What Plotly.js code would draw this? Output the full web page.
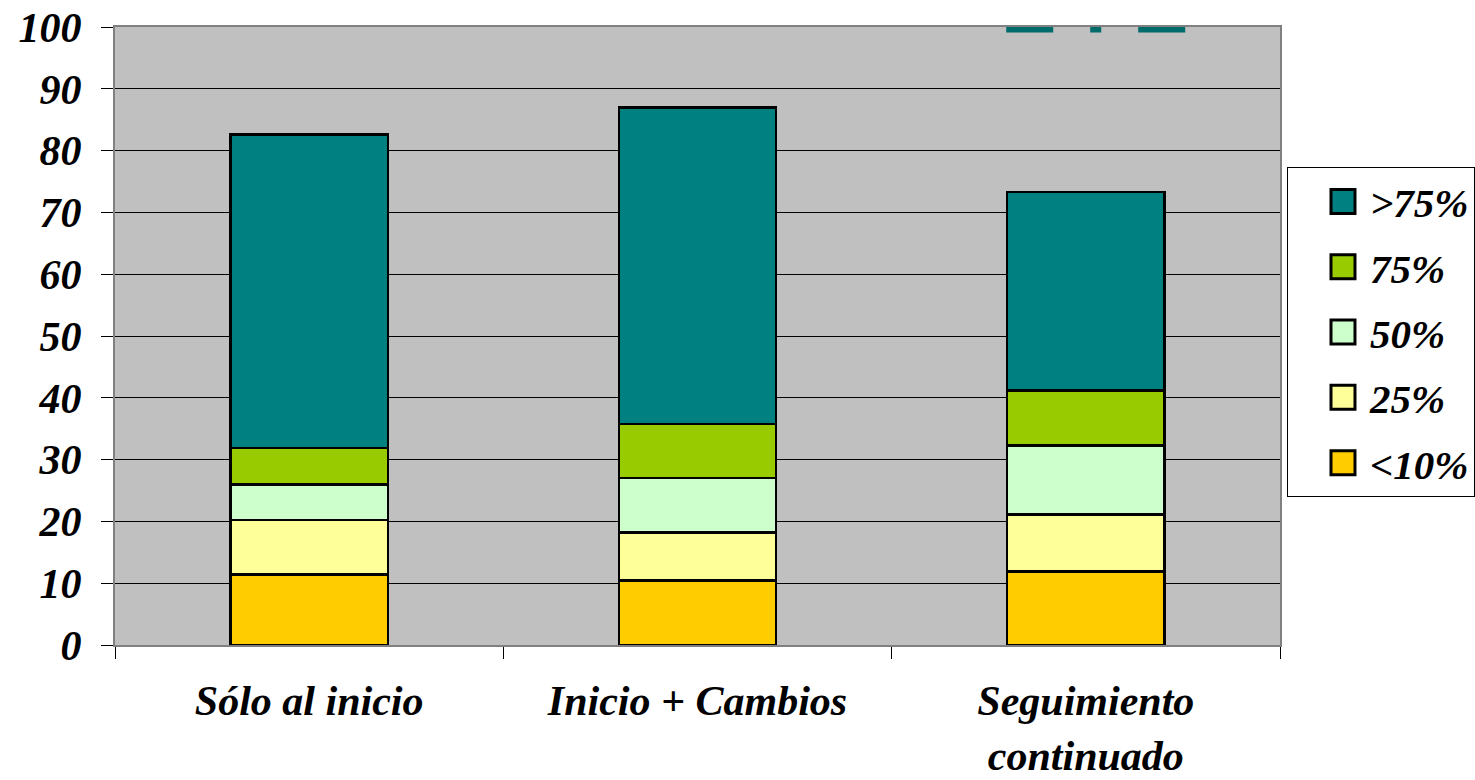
<!DOCTYPE html>
<html>
<head>
<meta charset="utf-8">
<script src="https://cdn.plot.ly/plotly-3.0.1.min.js"></script>
<style>
html,body{margin:0;padding:0;background:#fff;}
#chart{width:1475px;height:780px;}
</style>
</head>
<body>
<div id="chart"></div>
<script>
const categories = ["Sólo al inicio", "Inicio + Cambios", "Seguimiento<br>continuado"];
const seriesNames = ["<10%", "25%", "50%", "75%", ">75%"];
const seriesColors = ["#FFCC00", "#FFFF99", "#CCFFCC", "#99CC00", "#008080"];
const valsLt10 = [11.4, 10.4, 11.9];
const vals25 = [8.8, 7.8, 9.25];
const vals50 = [5.8, 8.8, 11.15];
const vals75 = [5.9, 8.8, 8.85];
const valsGt75 = [50.7, 51.2, 32.15];
const yTicks = [0, 10, 20, 30, 40, 50, 60, 70, 80, 90, 100];

const allVals = [valsLt10, vals25, vals50, vals75, valsGt75];
const FONT = "Liberation Serif, Times New Roman, serif";

const traces = allVals.map((v, i) => ({
  type: "bar",
  name: "<b><i>" + seriesNames[i].replace("<", "&lt;").replace(">", "&gt;") + "</i></b>",
  x: categories,
  y: v,
  legendgroup: "g" + i,
  legendrank: 100 - i,
  marker: {color: seriesColors[i], line: {color: "#000", width: 2.5}},
  hoverinfo: "skip"
}));

const layout = {
  width: 1475, height: 780,
  margin: {l: 115, r: 195, t: 27, b: 135, autoexpand: false},
  barmode: "stack",
  bargap: 0.595,
  paper_bgcolor: "#FFFFFF",
  plot_bgcolor: "#C0C0C0",
  font: {family: FONT, color: "#000"},
  showlegend: true,
  legend: {
    x: 1.006, xanchor: "left", y: 0.773, yanchor: "top",
    bgcolor: "#FFFFFF", bordercolor: "#000", borderwidth: 1,
    font: {family: FONT, size: 41, color: "#000"},
    traceorder: "grouped",
    tracegroupgap: 9,
    itemwidth: 72
  },
  xaxis: {
    type: "category",
    tickmode: "array",
    tickvals: categories,
    ticktext: categories.map(c => "<b><i>" + c + "</i></b>"),
    tickson: "boundaries",
    ticks: "outside", ticklen: 12, tickcolor: "#000", tickwidth: 1,
    ticklabelstandoff: 18,
    tickfont: {family: FONT, size: 42, color: "#000"},
    showline: true, linecolor: "#808080", linewidth: 2, mirror: true,
    showgrid: false, zeroline: false, fixedrange: true
  },
  yaxis: {
    range: [0, 100],
    tickmode: "array",
    tickvals: yTicks,
    ticktext: yTicks.map(t => "<b><i>" + t + "</i></b>"),
    ticks: "outside", ticklen: 12, tickcolor: "#000", tickwidth: 1,
    ticklabelstandoff: 11,
    tickfont: {family: FONT, size: 42, color: "#000"},
    showgrid: true, gridcolor: "#000", gridwidth: 1,
    showline: true, linecolor: "#808080", linewidth: 2, mirror: true,
    zeroline: false, fixedrange: true
  },
  shapes: [{
    type: "line", xref: "paper", yref: "y",
    x0: 0.765, x1: 0.919, y0: 100, y1: 100,
    line: {color: "#006B6B", width: 11, dash: "47px,37px,11px,37px"}
  }]
};

Plotly.newPlot("chart", traces, layout, {displayModeBar: false, staticPlot: true}).then(() => {
  document.querySelectorAll("#chart .legend .legendpoints path").forEach(p => {
    const t = p.getAttribute("transform") || "";
    p.setAttribute("transform", t + " translate(14,0) scale(2)");
    p.style.strokeWidth = "1.5px";
  });
});
</script>
</body>
</html>
